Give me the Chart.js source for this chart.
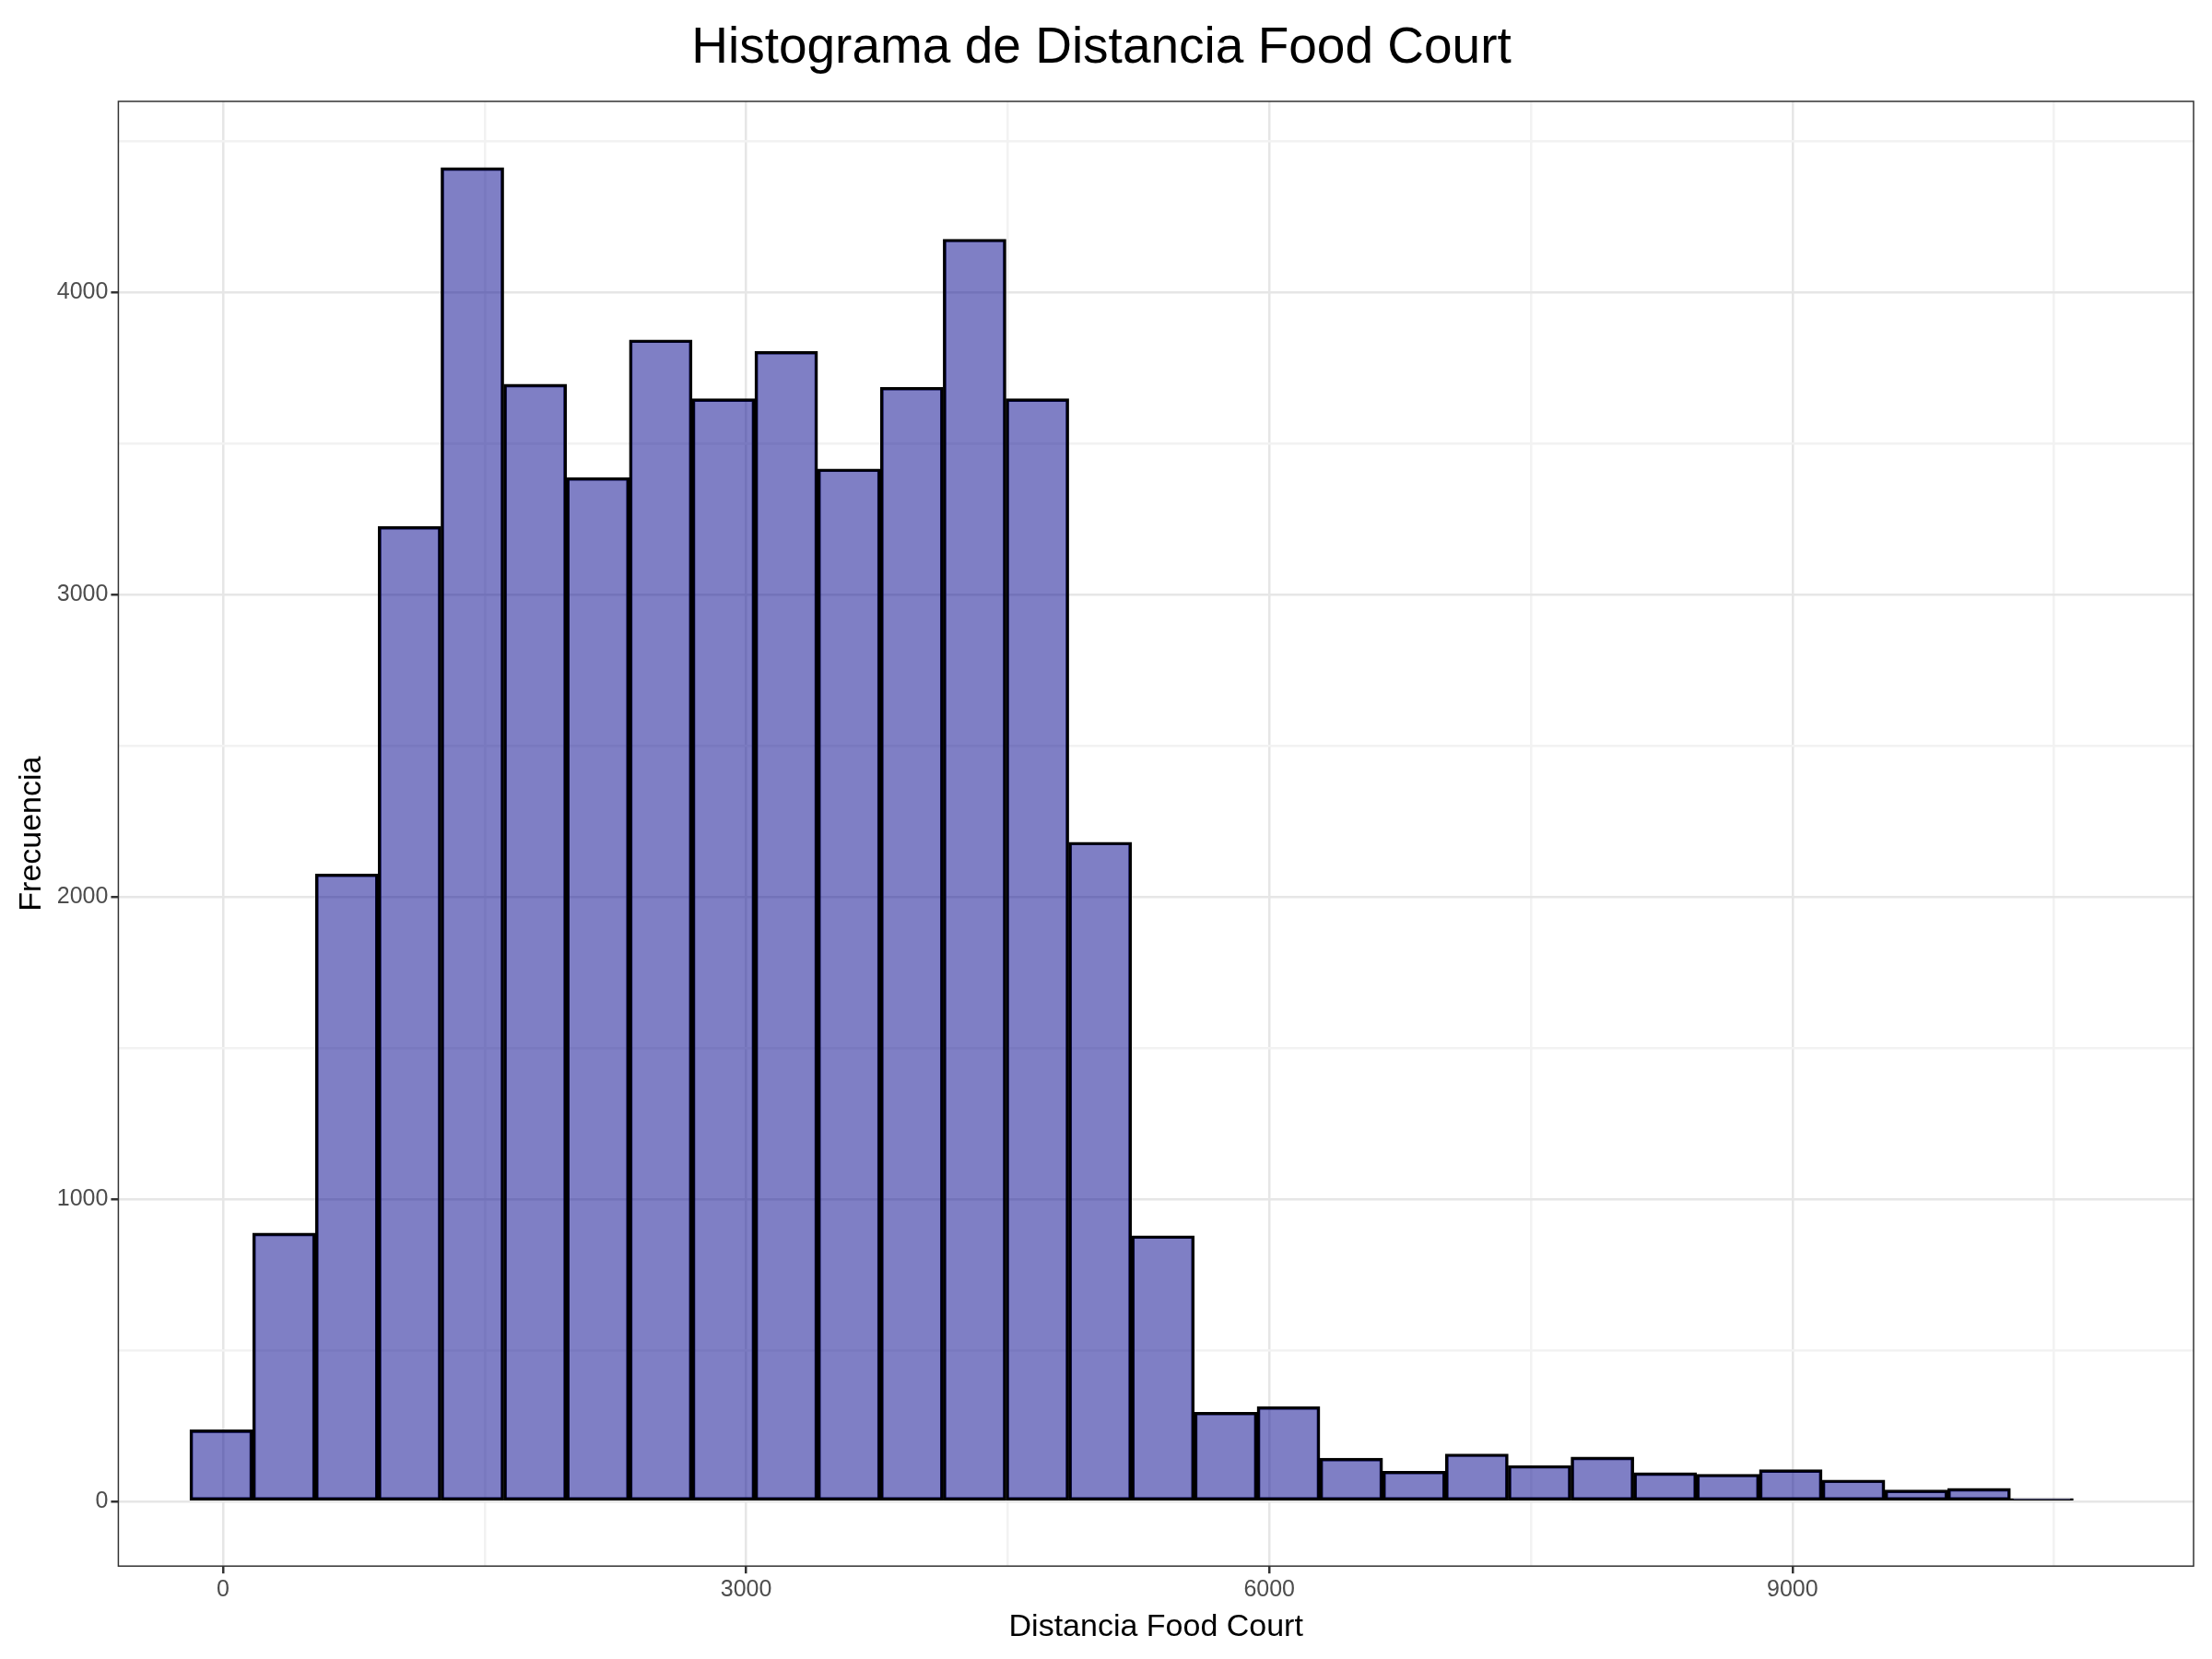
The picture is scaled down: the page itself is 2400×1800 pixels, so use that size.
<!DOCTYPE html>
<html>
<head>
<meta charset="utf-8">
<script src="https://cdn.jsdelivr.net/npm/chart.js@4"></script>
<style>
  body { margin: 0; background: #fff; }
  #wrap { width: 2400px; height: 1800px; }
</style>
</head>
<body>
<div id="wrap"><canvas id="hist"></canvas></div>
<script>
// bin edges start at -190, width 360
const binStart = -190;
const binWidth = 360;
const counts = [237, 888, 2076, 3226, 4413, 3696, 3387, 3843, 3648, 3805,
  3416, 3686, 4176, 3648, 2181, 879, 295, 314, 143, 100,
  157, 119, 147, 95, 90, 105, 71, 38, 43, 10];
const xTicks = [0, 3000, 6000, 9000];
const yTicks = [0, 1000, 2000, 3000, 4000];

const points = counts.map((c, i) => ({ x: binStart + binWidth * (i + 0.5), y: c }));

const frame = {
  id: 'frame',
  afterDraw(chart) {
    const { ctx, chartArea: a } = chart;
    ctx.save();
    ctx.strokeStyle = '#333';
    ctx.lineWidth = 1.5;
    ctx.strokeRect(a.left, a.top, a.right - a.left, a.bottom - a.top);
    ctx.restore();
  }
};

const tickFont = { family: 'Liberation Sans', size: 25 };
const gridColor = ctx => (ctx.tick && ctx.tick.major) ? '#e6e6e6' : '#f2f2f2';
const tickMark = ctx => (ctx.tick && ctx.tick.major) ? '#333' : 'rgba(0,0,0,0)';

new Chart(document.getElementById('hist'), {
  type: 'bar',
  data: {
    datasets: [{
      data: points,
      backgroundColor: 'rgba(0,0,139,0.5)',
      borderColor: '#000',
      borderWidth: 3,
      borderSkipped: false,
      barPercentage: 1,
      categoryPercentage: 1
    }]
  },
  options: {
    responsive: true,
    maintainAspectRatio: false,
    animation: false,
    layout: { padding: { left: 10, right: 20, top: 10, bottom: 10 } },
    plugins: {
      legend: { display: false },
      tooltip: { enabled: false },
      title: {
        display: true,
        text: 'Histograma de Distancia Food Court',
        color: '#000',
        font: { family: 'Liberation Sans', size: 55, weight: 'normal' },
        padding: { top: 10, bottom: 24 }
      }
    },
    scales: {
      x: {
        type: 'linear',
        offset: false,
        min: -600, max: 11300,
        afterBuildTicks: s => {
          s.ticks = [];
          for (let v = 0; v <= 10500; v += 1500) s.ticks.push({ value: v, major: v % 3000 === 0 });
        },
        ticks: {
          color: '#4d4d4d', font: tickFont, autoSkip: false, maxRotation: 0,
          callback: v => xTicks.includes(v) ? String(v) : ''
        },
        grid: { offset: false, color: gridColor, lineWidth: 2.5, tickColor: tickMark, tickLength: 8 },
        border: { display: false },
        title: { display: true, text: 'Distancia Food Court', color: '#000', font: { family: 'Liberation Sans', size: 34 }, padding: { top: 2 } }
      },
      y: {
        min: -214, max: 4632,
        afterBuildTicks: s => {
          s.ticks = [];
          for (let v = 0; v <= 4500; v += 500) s.ticks.push({ value: v, major: v % 1000 === 0 });
        },
        ticks: {
          color: '#4d4d4d', font: tickFont, autoSkip: false,
          callback: v => yTicks.includes(v) ? String(v) : ''
        },
        grid: { color: gridColor, lineWidth: 2.5, tickColor: tickMark, tickLength: 8 },
        border: { display: false },
        title: { display: true, text: 'Frecuencia', color: '#000', font: { family: 'Liberation Sans', size: 34 } }
      }
    }
  },
  plugins: [frame]
});
</script>
</body>
</html>
